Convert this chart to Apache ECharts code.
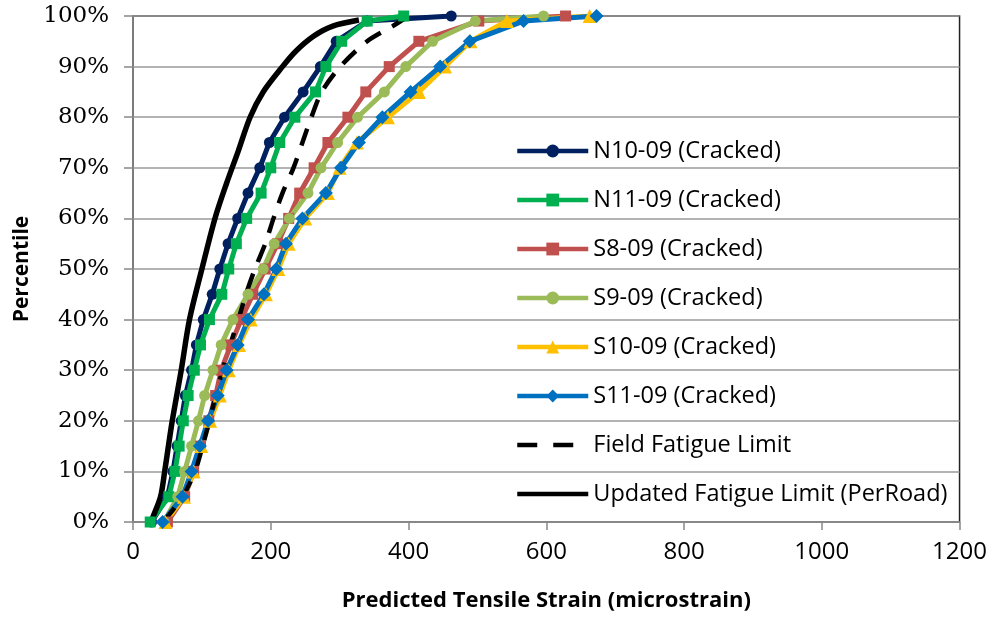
<!DOCTYPE html>
<html>
<head>
<meta charset="utf-8">
<script src="https://cdn.jsdelivr.net/npm/echarts@6/dist/echarts.min.js"></script>
<style>
  html, body { margin: 0; padding: 0; background: #fff; }
  #main { width: 990px; height: 617px; }
</style>
</head>
<body>
<div id="main"></div>
<script>
// percentiles of the marker series
var pct = [0, 5, 10, 15, 20, 25, 30, 35, 40, 45, 50, 55, 60, 65, 70, 75, 80, 85, 90, 95, 99, 100];

// predicted strain (microstrain) for each section
var n10 = [27, 50, 58, 64, 70, 76, 85, 92, 102, 115, 126, 138, 152, 167, 184, 198, 220, 247, 272, 295, 340, 462];
var n11 = [25, 52, 61, 67, 73, 80, 89, 98, 111, 129, 139, 150, 165, 186, 200, 213, 235, 265, 280, 303, 340, 393];
var s8  = [50, 75, 88, 98, 110, 120, 128, 142, 157, 174, 192, 210, 226, 242, 263, 283, 312, 338, 372, 415, 502, 628];
var s9  = [45, 65, 75, 85, 95, 104, 116, 128, 145, 167, 189, 205, 227, 254, 273, 297, 326, 365, 396, 435, 497, 596];
var s10 = [47, 74, 88, 99, 112, 126, 139, 154, 171, 193, 211, 226, 250, 283, 300, 325, 370, 415, 453, 490, 543, 663];
var s11 = [43, 72, 85, 97, 109, 123, 136, 152, 167, 190, 208, 222, 246, 280, 302, 328, 362, 403, 446, 489, 567, 673];

// field fatigue limit curve
var ffP = [0, 5, 10, 15, 20, 25, 30, 35, 40, 45, 50, 55, 60, 65, 70, 75, 80, 85, 90, 95, 98, 100];
var ffX = [44, 72, 90, 101, 111, 120, 130, 141, 153, 164, 177, 192, 204, 217, 233, 246, 259, 274, 301, 340, 377, 400];

// updated fatigue limit (PerRoad) curve
var ufP = [0, 1, 5, 10, 20, 30, 40, 50, 60, 67, 73, 80, 85, 90, 93, 96, 98, 99.2];
var ufX = [26, 29, 40, 46, 57, 70, 82, 100, 119, 136, 152, 170, 189, 217, 236, 262, 290, 328];

var xTicks = [0, 200, 400, 600, 800, 1000, 1200];

function pairs(xs, ps) {
    var out = [];
    for (var i = 0; i < xs.length; i++) {
        out.push([xs[i], ps[i]]);
    }
    return out;
}

function markSeries(name, xs, color, symbol, size) {
    return {
        name: name,
        type: 'line',
        data: pairs(xs, pct),
        symbol: symbol,
        symbolSize: size,
        showAllSymbol: true,
        itemStyle: { color: color },
        lineStyle: { color: color, width: 5 },
        emphasis: { disabled: true },
        animation: false
    };
}

var chart = echarts.init(document.getElementById('main'));

chart.setOption({
    backgroundColor: '#fff',
    grid: {
        left: 133,
        right: 28,
        top: 16,
        bottom: 94,
        show: true,
        borderColor: '#222',
        borderWidth: 1.5,
        containLabel: false
    },
    legend: {
        orient: 'vertical',
        left: 510,
        top: 133,
        itemWidth: 71,
        itemHeight: 16,
        itemGap: 23,
        lineStyle: { width: 4.5 },
        textStyle: {
            fontFamily: 'Open Sans',
            fontSize: 23.5,
            lineHeight: 26,
            color: '#000'
        },
        data: ['N10-09 (Cracked)', 'N11-09 (Cracked)', 'S8-09 (Cracked)', 'S9-09 (Cracked)',
               'S10-09 (Cracked)', 'S11-09 (Cracked)',
               { name: 'Field Fatigue Limit', itemStyle: { opacity: 0 }, lineStyle: { width: 4.5, type: [20, 16] } },
               { name: 'Updated Fatigue Limit (PerRoad)', itemStyle: { opacity: 0 } }]
    },
    xAxis: {
        type: 'value',
        min: xTicks[0],
        max: xTicks[xTicks.length - 1],
        interval: 200,
        name: 'Predicted Tensile Strain (microstrain)',
        nameLocation: 'middle',
        nameGap: 68,
        nameTextStyle: { fontFamily: 'Open Sans', fontWeight: 'bold', fontSize: 22, color: '#000' },
        axisLine: { lineStyle: { color: '#888', width: 1.5 } },
        axisTick: { show: true, length: 8, lineStyle: { color: '#888', width: 1.5 } },
        axisLabel: {
            fontFamily: 'Open Sans', fontSize: 24, color: '#000', margin: 18,
            formatter: function (v) { return String(v); }
        },
        splitLine: { show: false }
    },
    yAxis: {
        type: 'value',
        min: 0,
        max: 100,
        interval: 10,
        name: 'Percentile',
        nameLocation: 'middle',
        nameGap: 100,
        nameRotate: 90,
        nameTextStyle: { fontFamily: 'Open Sans', fontWeight: 'bold', fontSize: 21, color: '#000' },
        axisLine: { show: true, lineStyle: { color: '#888', width: 1.5 } },
        axisTick: { show: true, length: 9, lineStyle: { color: '#888', width: 1.5 } },
        axisLabel: { fontFamily: 'DejaVu Serif', fontSize: 23, color: '#000', margin: 24, formatter: '{value}%' },
        splitLine: { lineStyle: { color: '#9a9a9a', width: 1.5 } }
    },
    series: [
        markSeries('N10-09 (Cracked)', n10, '#002060', 'circle', 11),
        markSeries('N11-09 (Cracked)', n11, '#00B050', 'rect', 11),
        markSeries('S8-09 (Cracked)', s8, '#C0504D', 'rect', 11),
        markSeries('S9-09 (Cracked)', s9, '#9BBB59', 'circle', 11),
        markSeries('S10-09 (Cracked)', s10, '#FFC000', 'triangle', 14),
        markSeries('S11-09 (Cracked)', s11, '#0070C0', 'diamond', 14),
        {
            name: 'Field Fatigue Limit',
            type: 'line',
            data: pairs(ffX, ffP),
            smooth: 0.3,
            symbol: 'none',
            itemStyle: { color: '#000' },
            lineStyle: { color: '#000', width: 4.5, type: [18, 13] },
            emphasis: { disabled: true },
            animation: false
        },
        {
            name: 'Updated Fatigue Limit (PerRoad)',
            type: 'line',
            data: pairs(ufX, ufP),
            smooth: 0.3,
            symbol: 'none',
            itemStyle: { color: '#000' },
            lineStyle: { color: '#000', width: 5.5 },
            emphasis: { disabled: true },
            animation: false
        }
    ]
});
</script>
</body>
</html>
